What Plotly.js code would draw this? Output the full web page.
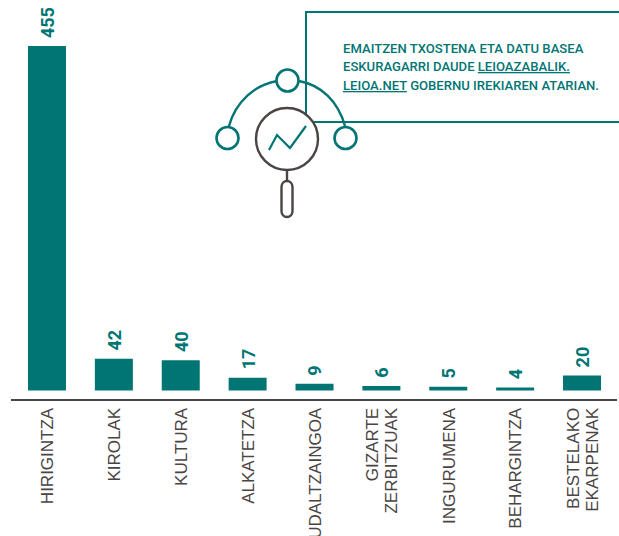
<!DOCTYPE html>
<html><head><meta charset="utf-8">
<script src="https://cdn.plot.ly/plotly-3.0.1.min.js"></script>
<style>html,body{margin:0;padding:0;background:#fff;overflow:hidden}</style>
</head><body><div id="c" style="width:619px;height:536px"></div>
<script>
const categories = ["HIRIGINTZA","KIROLAK","KULTURA","ALKATETZA","UDALTZAINGOA","GIZARTE|ZERBITZUAK","INGURUMENA","BEHARGINTZA","BESTELAKO|EKARPENAK"];
const values = [455,42,40,17,9,6,5,4,20];
const noteLines = ["EMAITZEN TXOSTENA ETA DATU BASEA","ESKURAGARRI DAUDE <u>LEIOAZABALIK.</u>","<u>LEIOA.NET</u> GOBERNU IREKIAREN ATARIAN."];
const TEAL="#007574", DARK="#4a4543";
const W=619,H=536,mL=11,mR=2,mT=4,mB=137;
const px=x=>(x-mL)/(W-mL-mR), py=y=>(H-mB-y)/(H-mB-mT);
const path=(segs)=>segs.map(s=>s[0]+" "+s.slice(1).map((v,i)=>i%2?py(v):px(v)).join(" ")).join(" ");
const circle=(cx,cy,r,col,w)=>({type:"circle",xref:"paper",yref:"paper",x0:px(cx-r),x1:px(cx+r),y0:py(cy+r),y1:py(cy-r),line:{color:col,width:w},fillcolor:"#fff",layer:"above"});
const pth=(segs,col,w)=>({type:"path",xref:"paper",yref:"paper",path:path(segs),line:{color:col,width:w},layer:"above"});
const shapes=[
 pth([["M",306,122],["L",306,12],["L",621,12]],TEAL,2),
 pth([["M",306,122],["L",621,122]],TEAL,2),
 pth([["M",229,126],["C",236,101,255,85,277,81]],TEAL,2.4),
 pth([["M",299,81],["C",321,85,338,101,345,126]],TEAL,2.4),
 circle(227.5,138,11,TEAL,2.6),
 circle(287.5,80.5,11,TEAL,2.6),
 circle(345.5,138,11,TEAL,2.6),
 circle(287,139,31,DARK,2.4),
 pth([["M",287,170],["L",287,181]],DARK,2.4),
 pth([["M",281.5,187],["C",281.5,179,292.5,179,292.5,187],["L",292.5,211],["C",292.5,219,281.5,219,281.5,211],["Z"]],DARK,2.4),
 pth([["M",269,150],["L",277,135],["L",290,148],["L",306,126]],TEAL,2.2)
];
const annotations=values.map((v,i)=>({x:i,y:v,xref:"x",yref:"y",text:"<b>"+v+"</b>",showarrow:false,textangle:-90,yanchor:"bottom",xanchor:"center",yshift:6,xshift:0.5,font:{family:"Roboto, sans-serif",size:18,color:TEAL}}));
noteLines.forEach((t,i)=>annotations.push({xref:"paper",yref:"paper",x:px(341),y:py(48+i*18.5),xanchor:"left",yanchor:"middle",align:"left",showarrow:false,text:t,font:{family:"Roboto, sans-serif",size:13.1,weight:500,color:TEAL}}));
const tickvals=[],ticktext=[];
categories.forEach((c,i)=>{const p=c.split("|");p.forEach((t,j)=>{tickvals.push(i+0.012+(p.length>1?(j-0.5)*0.284:0));ticktext.push(t);});});
Plotly.newPlot("c",[{type:"bar",x:categories.map((c,i)=>i),y:values,marker:{color:TEAL,line:{width:0}},width:0.568,hoverinfo:"skip"}],{
 width:W,height:H,margin:{l:mL,r:mR,t:mT,b:mB,pad:0},paper_bgcolor:"#fff",plot_bgcolor:"#fff",showlegend:false,
 xaxis:{range:[-0.538,8.523],tickmode:"array",tickvals,ticktext,tickangle:-90,ticks:"",showgrid:false,zeroline:false,showline:true,linecolor:DARK,linewidth:2,automargin:false,tickfont:{family:"Liberation Sans, sans-serif",size:17,color:DARK}},
 yaxis:{range:[-11.2,510.6],visible:false,showgrid:false,zeroline:false},
 shapes,annotations
},{displayModeBar:false,staticPlot:true});
</script></body></html>
